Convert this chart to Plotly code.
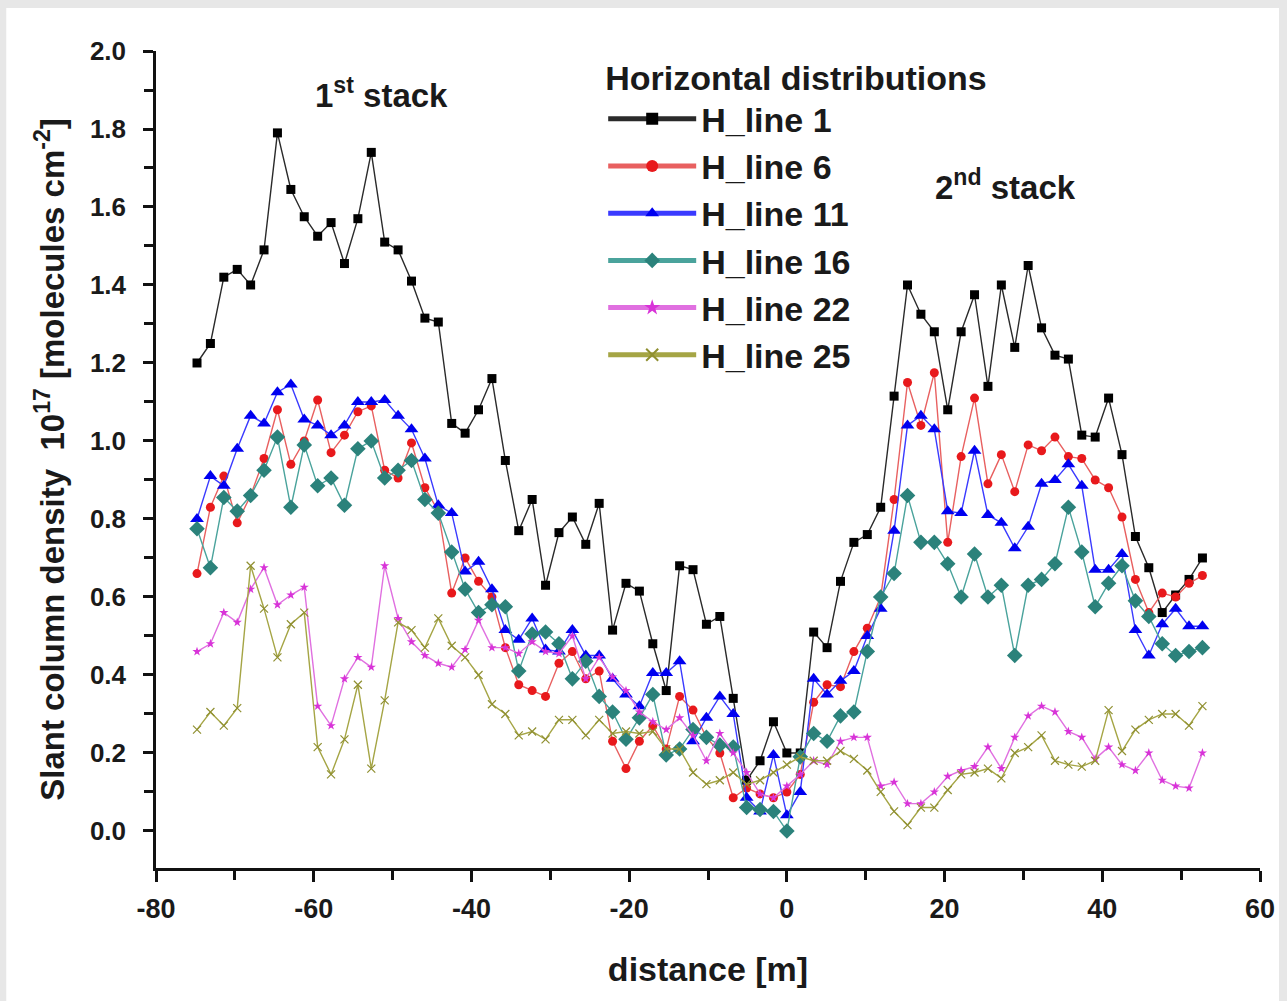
import plotly.graph_objects as go

# ---------------- data ----------------
distance_m = [-74.8, -73.1, -71.4, -69.7, -68.0, -66.3, -64.6, -62.9, -61.2, -59.5,
              -57.8, -56.1, -54.4, -52.7, -51.0, -49.3, -47.6, -45.9, -44.2, -42.5,
              -40.8, -39.1, -37.4, -35.7, -34.0, -32.3, -30.6, -28.9, -27.2, -25.5,
              -23.8, -22.1, -20.4, -18.7, -17.0, -15.3, -13.6, -11.9, -10.2, -8.5,
              -6.8, -5.1, -3.4, -1.7, 0.0, 1.7, 3.4, 5.1, 6.8, 8.5,
              10.2, 11.9, 13.6, 15.3, 17.0, 18.7, 20.4, 22.1, 23.8, 25.5,
              27.2, 28.9, 30.6, 32.3, 34.0, 35.7, 37.4, 39.1, 40.8, 42.5,
              44.2, 45.9, 47.6, 49.3, 51.0, 52.7]

h_line_1 = [1.20, 1.25, 1.42, 1.44, 1.40, 1.49, 1.79, 1.645, 1.575, 1.525,
            1.56, 1.455, 1.57, 1.74, 1.51, 1.49, 1.41, 1.315, 1.305, 1.045,
            1.02, 1.08, 1.16, 0.95, 0.77, 0.85, 0.63, 0.765, 0.805, 0.735,
            0.84, 0.515, 0.635, 0.615, 0.48, 0.36, 0.68, 0.67, 0.53, 0.55,
            0.34, 0.13, 0.18, 0.28, 0.20, 0.20, 0.51, 0.47, 0.64, 0.74,
            0.76, 0.83, 1.115, 1.40, 1.325, 1.28, 1.08, 1.28, 1.375, 1.14,
            1.40, 1.24, 1.45, 1.29, 1.22, 1.21, 1.015, 1.01, 1.11, 0.965,
            0.755, 0.675, 0.56, 0.605, 0.645, 0.70]

h_line_6 = [0.66, 0.83, 0.91, 0.79, 0.86, 0.955, 1.08, 0.94, 1.00, 1.105,
            0.97, 1.015, 1.075, 1.09, 0.925, 0.905, 0.995, 0.88, 0.82, 0.61,
            0.70, 0.64, 0.60, 0.47, 0.375, 0.36, 0.345, 0.43, 0.46, 0.39,
            0.41, 0.23, 0.16, 0.23, 0.27, 0.21, 0.345, 0.31, 0.24, 0.20,
            0.085, 0.11, 0.095, 0.085, 0.10, 0.145, 0.33, 0.375, 0.37, 0.46,
            0.52, 0.60, 0.85, 1.15, 1.04, 1.175, 0.74, 0.96, 1.11, 0.89,
            0.965, 0.87, 0.99, 0.975, 1.01, 0.96, 0.955, 0.90, 0.88, 0.805,
            0.645, 0.56, 0.61, 0.60, 0.635, 0.655]

h_line_11 = [0.80, 0.91, 0.885, 0.98, 1.065, 1.045, 1.125, 1.145, 1.055, 1.04,
             1.015, 1.04, 1.10, 1.10, 1.105, 1.065, 1.03, 0.955, 0.835, 0.815,
             0.665, 0.69, 0.62, 0.515, 0.49, 0.545, 0.465, 0.46, 0.515, 0.45,
             0.45, 0.39, 0.35, 0.32, 0.405, 0.405, 0.435, 0.23, 0.29, 0.345,
             0.30, 0.085, 0.05, 0.195, 0.04, 0.10, 0.39, 0.35, 0.385, 0.41,
             0.50, 0.57, 0.77, 1.04, 1.065, 1.03, 0.82, 0.815, 0.975, 0.81,
             0.79, 0.725, 0.78, 0.89, 0.90, 0.94, 0.885, 0.67, 0.67, 0.71,
             0.515, 0.45, 0.53, 0.57, 0.525, 0.525]

h_line_16 = [0.775, 0.675, 0.855, 0.82, 0.86, 0.925, 1.01, 0.83, 0.99, 0.885,
             0.905, 0.835, 0.98, 1.00, 0.905, 0.925, 0.95, 0.85, 0.815, 0.715,
             0.62, 0.56, 0.58, 0.575, 0.41, 0.505, 0.51, 0.48, 0.39, 0.435,
             0.345, 0.305, 0.235, 0.29, 0.35, 0.195, 0.21, 0.26, 0.24, 0.22,
             0.215, 0.06, 0.055, 0.05, 0.00, 0.19, 0.25, 0.23, 0.295, 0.305,
             0.46, 0.60, 0.66, 0.86, 0.74, 0.74, 0.685, 0.60, 0.71, 0.60,
             0.63, 0.45, 0.63, 0.645, 0.685, 0.83, 0.715, 0.575, 0.635, 0.68,
             0.59, 0.55, 0.48, 0.45, 0.46, 0.47]

h_line_22 = [0.46, 0.48, 0.56, 0.535, 0.62, 0.675, 0.58, 0.605, 0.625, 0.32,
             0.27, 0.39, 0.445, 0.42, 0.68, 0.545, 0.485, 0.45, 0.43, 0.42,
             0.465, 0.54, 0.47, 0.47, 0.455, 0.485, 0.46, 0.455, 0.50, 0.39,
             0.445, 0.395, 0.36, 0.305, 0.28, 0.26, 0.29, 0.245, 0.18, 0.25,
             0.20, 0.15, 0.095, 0.085, 0.115, 0.145, 0.18, 0.17, 0.23, 0.24,
             0.24, 0.115, 0.125, 0.07, 0.07, 0.10, 0.14, 0.155, 0.165, 0.215,
             0.16, 0.24, 0.295, 0.32, 0.305, 0.255, 0.24, 0.185, 0.215, 0.17,
             0.155, 0.20, 0.13, 0.115, 0.11, 0.20]

h_line_25 = [0.26, 0.305, 0.27, 0.315, 0.68, 0.57, 0.445, 0.53, 0.56, 0.215,
             0.145, 0.235, 0.375, 0.16, 0.335, 0.535, 0.515, 0.47, 0.545, 0.475,
             0.445, 0.40, 0.325, 0.30, 0.245, 0.255, 0.235, 0.285, 0.285, 0.245,
             0.285, 0.25, 0.255, 0.25, 0.255, 0.21, 0.21, 0.15, 0.12, 0.13,
             0.15, 0.12, 0.13, 0.15, 0.17, 0.19, 0.18, 0.18, 0.205, 0.185,
             0.155, 0.10, 0.05, 0.015, 0.06, 0.06, 0.105, 0.145, 0.15, 0.16,
             0.135, 0.20, 0.215, 0.245, 0.18, 0.17, 0.165, 0.18, 0.31, 0.205,
             0.26, 0.285, 0.30, 0.30, 0.27, 0.32]

series_names = ["H_line 1", "H_line 6", "H_line 11", "H_line 16", "H_line 22", "H_line 25"]

x_tick_vals = [-80, -60, -40, -20, 0, 20, 40, 60]
x_tick_text = ["-80", "-60", "-40", "-20", "0", "20", "40", "60"]
y_tick_vals = [0.0, 0.2, 0.4, 0.6, 0.8, 1.0, 1.2, 1.4, 1.6, 1.8, 2.0]
y_tick_text = ["0.0", "0.2", "0.4", "0.6", "0.8", "1.0", "1.2", "1.4", "1.6", "1.8", "2.0"]

# ---------------- styles ----------------
styles = [
    dict(line="#2a2a2a", marker="#000000", symbol="square", size=9),
    dict(line="#e86060", marker="#e8191c", symbol="circle", size=9),
    dict(line="#3a3aff", marker="#0000f0", symbol="triangle-up", size=12),
    dict(line="#4aa39c", marker="#2b827b", symbol="diamond", size=12),
    dict(line="#e070e0", marker="#d833d8", symbol="star", size=7),
    dict(line="#a5a545", marker="#8f8f30", symbol="x-thin", size=8),
]
all_series = [h_line_1, h_line_6, h_line_11, h_line_16, h_line_22, h_line_25]

FONT = "Liberation Sans, Arial, sans-serif"
TXT = "#1a1a1a"

fig = go.Figure()
for name, ys, st in zip(series_names, all_series, styles):
    fig.add_trace(go.Scatter(
        x=distance_m, y=ys, name=name, mode="lines+markers",
        legendgroup=name,
        line=dict(color=st["line"], width=1.4),
        marker=dict(symbol=st["symbol"], size=st["size"], color=st["marker"],
                    line=dict(color=st["marker"], width=1.2 if st["symbol"] == "x-thin" else 0)),
    ))

W, H = 1287, 1001
ml, mr, mt, mb = 156, 25, 51, 133
pw, ph = W - ml - mr, H - mt - mb

def px2paper_x(px):
    return (px - ml) / pw

def px2paper_y(py):
    return (H - mb - py) / ph

fig.update_layout(
    width=W, height=H,
    margin=dict(l=ml, r=mr, t=mt, b=mb, pad=0),
    paper_bgcolor="#e7e7e7",
    plot_bgcolor="white",
    font=dict(family=FONT, color=TXT),
    showlegend=True,
    legend=dict(
        x=px2paper_x(604), y=px2paper_y(46), xanchor="left", yanchor="top",
        bgcolor="rgba(0,0,0,0)",
        title=dict(text="Horizontal distributions", font=dict(size=34, family=FONT, weight="bold", color=TXT)),
        font=dict(size=34, family=FONT, weight="bold", color=TXT),
        tracegroupgap=0, itemwidth=88, itemsizing="constant",
    ),
    shapes=[dict(type="rect", xref="paper", yref="paper",
                 x0=px2paper_x(6), x1=px2paper_x(1281), y0=px2paper_y(1001), y1=px2paper_y(8),
                 fillcolor="white", line=dict(width=0), layer="below")],
    annotations=[
        dict(text="1<sup>st</sup> stack", x=px2paper_x(382), y=px2paper_y(93), xref="paper", yref="paper",
             xanchor="center", yanchor="middle",
             showarrow=False, font=dict(size=33, family=FONT, weight="bold", color=TXT)),
        dict(text="2<sup>nd</sup> stack", x=px2paper_x(1007), y=px2paper_y(185), xref="paper", yref="paper",
             xanchor="center", yanchor="middle",
             showarrow=False, font=dict(size=33, family=FONT, weight="bold", color=TXT)),
    ],
)

fig.update_xaxes(
    range=[-80, 60], showgrid=False, zeroline=False,
    showline=True, linecolor="#111", linewidth=3,
    ticks="outside", ticklen=11, tickwidth=2.5, tickcolor="#111",
    tickvals=x_tick_vals, ticktext=x_tick_text, ticklabelstandoff=4,
    tickfont=dict(size=27, family=FONT, weight="bold", color=TXT),
    minor=dict(dtick=10, tick0=0, ticks="outside", ticklen=9, tickwidth=2.5, tickcolor="#111"),
    title=dict(text="distance [m]", standoff=34, font=dict(size=34, family=FONT, weight="bold", color=TXT)),
)
fig.update_yaxes(
    range=[-0.095, 2.0], showgrid=False, zeroline=False,
    showline=True, linecolor="#111", linewidth=2.5,
    ticks="outside", ticklen=10, tickwidth=2.5, tickcolor="#111",
    tickvals=y_tick_vals, ticktext=y_tick_text, ticklabelstandoff=12,
    tickfont=dict(size=26, family=FONT, weight="bold", color=TXT),
    minor=dict(dtick=0.1, tick0=0, ticks="outside", ticklen=9, tickwidth=2.5, tickcolor="#111"),
    title=dict(text="Slant column density  10<sup>17</sup> [molecules cm<sup>-2</sup>]", standoff=16,
               font=dict(size=33, family=FONT, weight="bold", color=TXT)),
)

fig.write_html("out.html")
